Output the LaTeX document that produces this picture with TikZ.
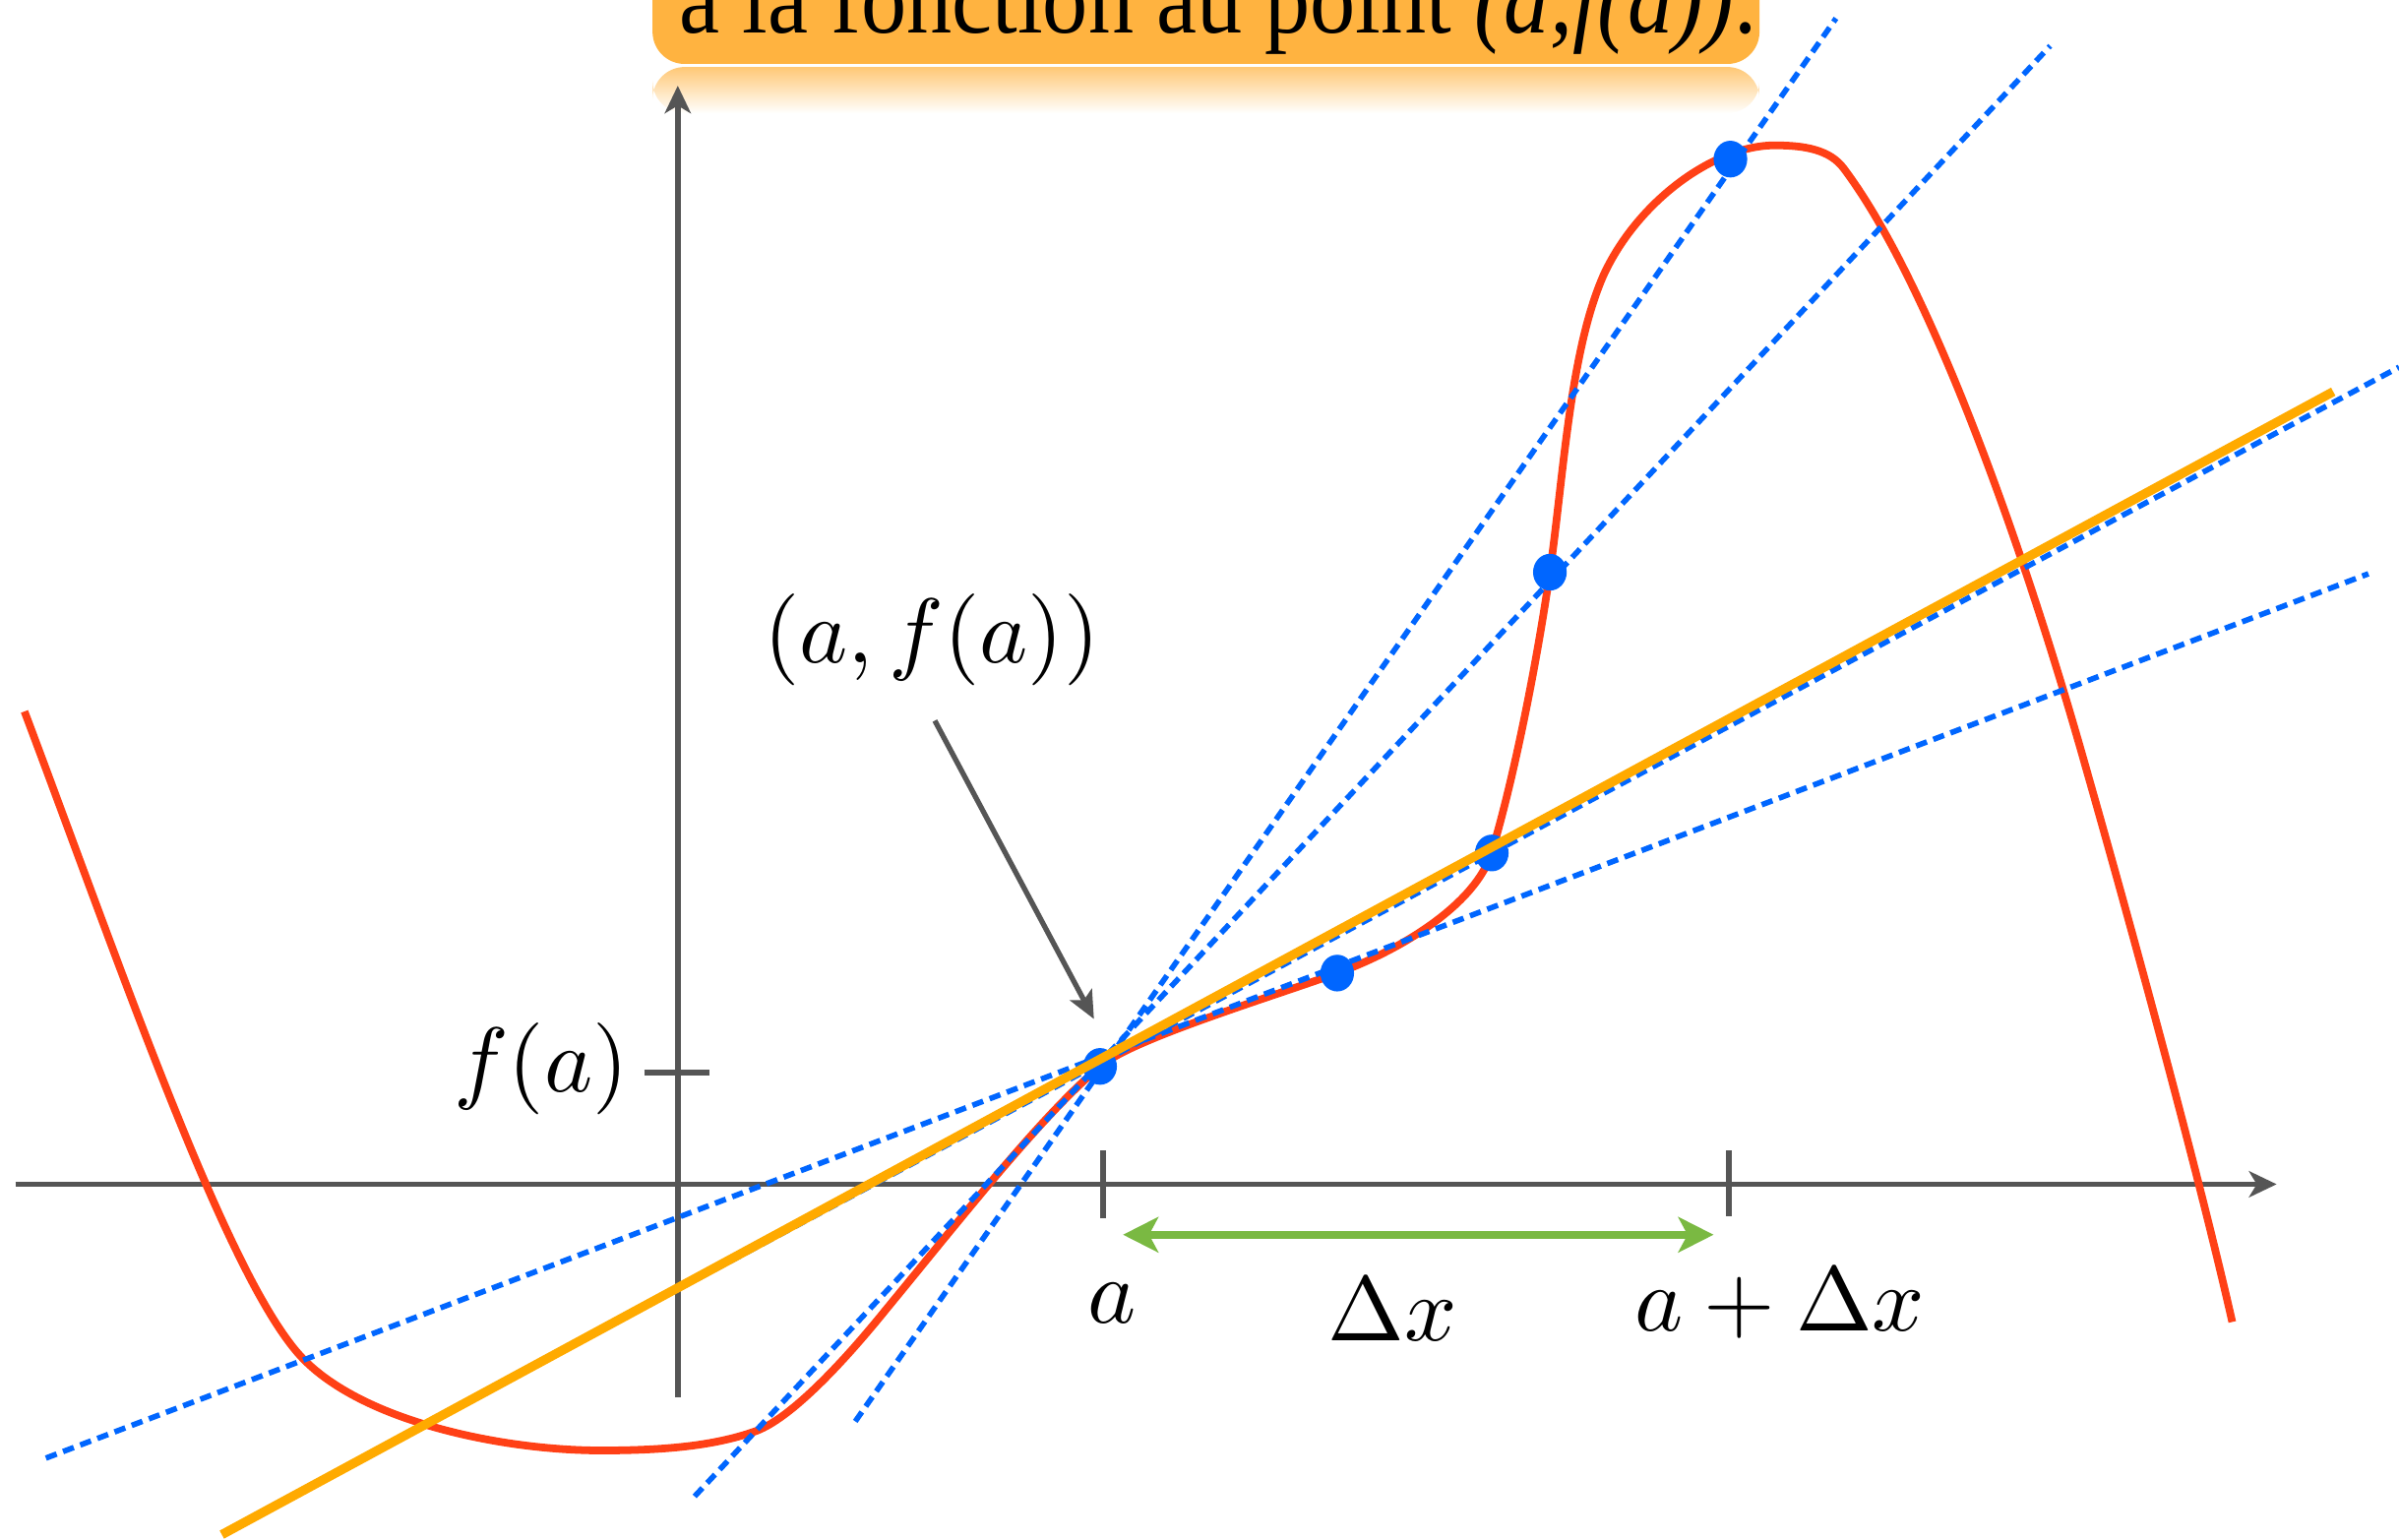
\documentclass[tikz,border=0pt]{standalone}
\usepackage[no-math]{fontspec}
\newfontfamily\bannerfont{Liberation Serif}
\usepackage{graphicx}
\usetikzlibrary{arrows.meta,shapes.geometric}
\definecolor{axisgray}{RGB}{85,85,85}
\definecolor{curvered}{RGB}{255,64,22}
\definecolor{dotblue}{RGB}{0,102,255}
\definecolor{tangorange}{RGB}{255,170,0}
\definecolor{bannerorange}{RGB}{255,179,64}
\definecolor{arrowgreen}{RGB}{122,185,66}
\newcommand{\biglabel}[1]{\scalebox{6}{$#1$}}
\tikzset{
  axisline/.style={draw=axisgray, line width=3.6pt, -{Stealth[length=18pt,width=17pt,inset=5pt]}},
  tickmark/.style={draw=axisgray, line width=3.6pt},
  curveline/.style={draw=curvered, line width=5pt, line join=round},
  secant/.style={draw=dotblue, line width=3.6pt, dash pattern=on 7.5pt off 4.5pt},
  tangentline/.style={draw=tangorange, line width=6pt},
  ptdot/.style={ellipse, fill=dotblue, minimum width=22pt, minimum height=24pt, inner sep=0pt},
  mathlabel/.style={inner sep=0pt},
  pointer/.style={draw=axisgray, line width=3.4pt, -{Stealth[length=18pt,width=16pt,inset=4pt]}},
  deltaarrow/.style={draw=arrowgreen, line width=5.5pt, {Stealth[length=23pt,width=23pt,inset=6pt]}-{Stealth[length=23pt,width=23pt,inset=6pt]}},
}
\begin{document}
\begin{tikzpicture}[x=1pt,y=-1pt]
\useasboundingbox (0,0) rectangle (1568,1006);
\clip (0,0) rectangle (1568,1006);

% banner and its reflection
\fill[bannerorange, rounded corners=21pt] (426.5,-60) rectangle (1150,41.8);
\shade[top color=bannerorange!72!white, bottom color=white, rounded corners=21pt] (426.5,43.8) rectangle (1150,74);
\node[anchor=base west, inner sep=0pt, font=\bannerfont\fontsize{66}{70}\selectfont] (banner) at (444,21.4)
  {\resizebox{704pt}{\height}{à la fonction au point \textit{(a,f(a))}.}};

% axes
\coordinate (xs) at (10,774);
\coordinate (xe) at (1488,774);
\coordinate (ys) at (443,913);
\coordinate (ye) at (443,56);
\draw[axisline] (xs) -- (xe);
\draw[axisline] (ys) -- (ye);

% ticks
\coordinate (fa1) at (421,701);
\coordinate (fa2) at (464,701);
\coordinate (ta1) at (721,752);
\coordinate (ta2) at (721,796);
\coordinate (tb1) at (1130,752);
\coordinate (tb2) at (1130,795);
\draw[tickmark] (fa1) -- (fa2);
\draw[tickmark] (ta1) -- (ta2);
\draw[tickmark] (tb1) -- (tb2);

% function curve
\draw[curveline] (16,465)
  .. controls (80,635) and (150,840) .. (199,889)
  .. controls (240,930) and (330,948) .. (393,948)
  .. controls (440,948) and (470,944) .. (495,935)
  .. controls (515,927) and (545,898) .. (579,856)
  .. controls (630,794) and (680,730) .. (719,697)
  .. controls (740,679) and (830,652) .. (874,636)
  .. controls (918,620) and (965,590) .. (975,557)
  .. controls (990,507) and (1005,430) .. (1013,374)
  .. controls (1022,311) and (1026,230) .. (1048,180)
  .. controls (1070,132) and (1120,95) .. (1160,95)
  .. controls (1180,95) and (1196,98) .. (1205,110)
  .. controls (1260,183) and (1320,350) .. (1360,490)
  .. controls (1400,630) and (1440,780) .. (1459,864);

% secants
\coordinate (s1a) at (30,953);   \coordinate (s1b) at (1548,375);
\coordinate (s2a) at (181,983);  \coordinate (s2b) at (1568,240);
\coordinate (s3a) at (454,978);  \coordinate (s3b) at (1340,30);
\coordinate (s4a) at (559,929);  \coordinate (s4b) at (1200,12);
\draw[secant] (s1a) -- (s1b);
\draw[secant] (s2a) -- (s2b);
\draw[secant] (s3a) -- (s3b);
\draw[secant] (s4a) -- (s4b);

% points
\node[ptdot] (p0) at (719,697) {};
\node[ptdot] (p1) at (874,636) {};
\node[ptdot] (p2) at (975,557.5) {};
\node[ptdot] (p3) at (1013,374) {};
\node[ptdot] (p4) at (1131,104) {};

% tangent
\coordinate (tga) at (145,1003);
\coordinate (tgb) at (1525,256);
\draw[tangentline] (tga) -- (tgb);

% labels
\node[mathlabel, anchor=base] (lpt) at (609,433) {\biglabel{(a,f(a))}};
\node[mathlabel, anchor=base east] (lfa) at (411,713.5) {\biglabel{f(a)}};
\node[mathlabel, anchor=base] (la) at (727,865) {\biglabel{a}};
\node[mathlabel, anchor=base] (ldx) at (910,876) {\biglabel{\Delta x}};
\node[mathlabel, anchor=base] (ladx) at (1163.5,870) {\biglabel{a+\Delta x}};

% pointer arrow
\coordinate (ptrs) at (611,471);
\coordinate (ptre) at (715,666);
\draw[pointer] (ptrs) -- (ptre);

% delta x arrow
\coordinate (dxa) at (734,807);
\coordinate (dxb) at (1120,807);
\draw[deltaarrow] (dxa) -- (dxb);
\end{tikzpicture}
\end{document}
